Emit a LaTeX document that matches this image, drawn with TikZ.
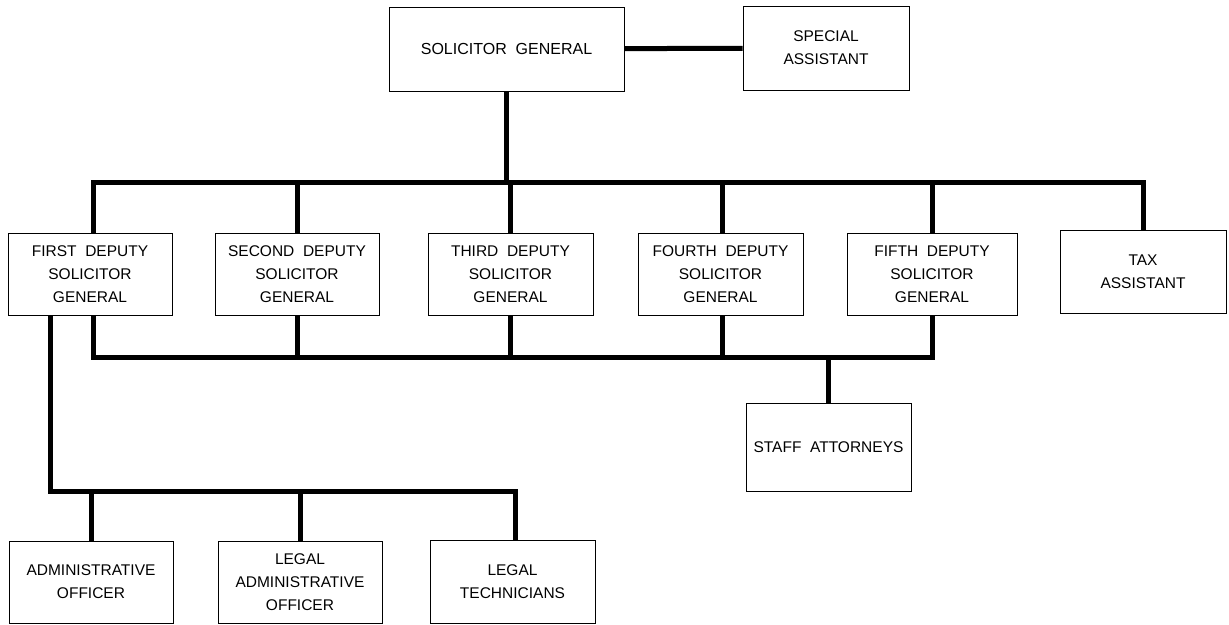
\documentclass[tikz,border=0pt]{standalone}
\usepackage{fontspec}
\setmainfont{Liberation Sans}
\begin{document}
\begin{tikzpicture}[x=1pt,y=-1pt,
  box/.style={draw=black,line width=1pt,fill=white,inner sep=0pt,align=center,
    font=\fontsize{15.5}{23}\selectfont},
  bus/.style={draw=black,line width=5pt,line join=miter}]
\useasboundingbox (0,0) rectangle (1229,624);
\fill[white] (0,0) rectangle (1229,624);
% boxes
\node[box,minimum width=235pt,minimum height=84pt,font=\fontsize{16}{23}\selectfont] (sg) at (506.5,49) {SOLICITOR\ \ GENERAL};
\node[box,minimum width=166pt,minimum height=84pt] (sa) at (826,48) {SPECIAL\\ASSISTANT};
\node[box,minimum width=164pt,minimum height=82pt] (d1) at (90,274) {FIRST\ \ DEPUTY\\SOLICITOR\\GENERAL};
\node[box,minimum width=164pt,minimum height=82pt] (d2) at (297,274) {SECOND\ \ DEPUTY\\SOLICITOR\\GENERAL};
\node[box,minimum width=165pt,minimum height=82pt] (d3) at (510.5,274) {THIRD\ \ DEPUTY\\SOLICITOR\\GENERAL};
\node[box,minimum width=165pt,minimum height=82pt] (d4) at (720.5,274) {FOURTH\ \ DEPUTY\\SOLICITOR\\GENERAL};
\node[box,minimum width=170pt,minimum height=82pt] (d5) at (932,274) {FIFTH\ \ DEPUTY\\SOLICITOR\\GENERAL};
\node[box,minimum width=166pt,minimum height=83pt] (tax) at (1143,271.5) {TAX\\ASSISTANT};
\node[box,minimum width=165pt,minimum height=88pt] (staff) at (828.5,447) {STAFF\ \ ATTORNEYS};
\node[box,minimum width=164pt,minimum height=82pt] (ao) at (91,582) {ADMINISTRATIVE\\OFFICER};
\node[box,minimum width=164pt,minimum height=82pt] (lao) at (300,582) {LEGAL\\ADMINISTRATIVE\\OFFICER};
\node[box,minimum width=165pt,minimum height=83pt] (lt) at (512.5,581.5) {LEGAL\\TECHNICIANS};
% bus coordinates
\coordinate (busL) at (93,182);
\coordinate (busR) at (1143,182);
\coordinate (lbL) at (93,357);
\coordinate (lbR) at (932,357);
\coordinate (bbL) at (50,491);
\coordinate (bbR) at (515,491);
% connectors
\draw[bus] (sg) -- (sa);
\draw[bus] (sg.south) -- (sg.south |- busL);
\draw[bus] (d1.north -| busL) -- (busL) -- (busR) -- (tax.north -| busR);
\draw[bus] (d2.north) -- (d2.north |- busL);
\draw[bus] (d3.north) -- (d3.north |- busL);
\draw[bus] (d4.north -| 722,0) -- (722,182);
\draw[bus] (d5.north) -- (d5.north |- busL);
\draw[bus] (d1.south -| lbL) -- (lbL) -- (lbR) -- (d5.south -| lbR);
\draw[bus] (d2.south) -- (d2.south |- lbL);
\draw[bus] (d3.south) -- (d3.south |- lbL);
\draw[bus] (d4.south -| 722,0) -- (722,357);
\draw[bus] (staff.north) -- (staff.north |- lbL);
\draw[bus] (d1.south -| bbL) -- (bbL) -- (bbR) -- (lt.north -| bbR);
\draw[bus] (ao.north) -- (ao.north |- bbL);
\draw[bus] (lao.north) -- (lao.north |- bbL);
\end{tikzpicture}
\end{document}
